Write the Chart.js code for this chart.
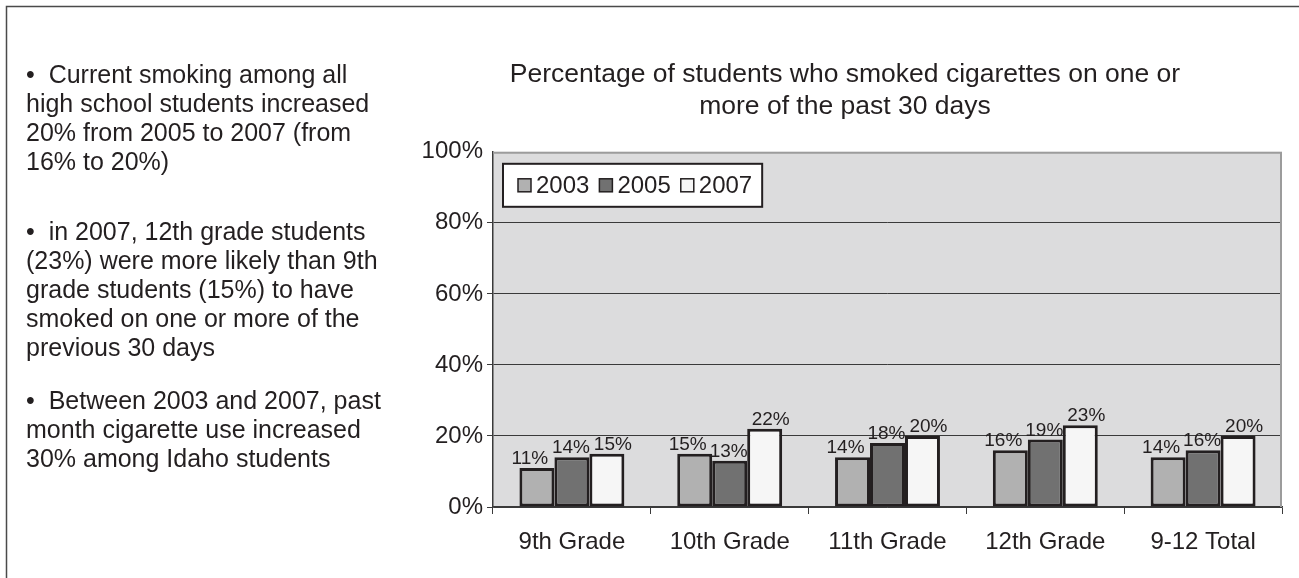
<!DOCTYPE html>
<html>
<head>
<meta charset="utf-8">
<script src="https://cdn.jsdelivr.net/npm/chart.js@4.4.1/dist/chart.umd.min.js"></script>
<style>
  body { margin: 0; background: #fff; }
  #wrap { position: relative; width: 1299px; height: 578px; }
  #smoking { position: absolute; left: 0; top: 0; }
  .note {
    position: absolute; left: 26px; margin: 0; white-space: nowrap;
    font: 25px/29px "Liberation Sans", Arial, sans-serif; color: #231f20;
  }
</style>
</head>
<body>
<div id="wrap">
  <canvas id="smoking" width="1299" height="578"></canvas>
  <p class="note" style="top:60px">•&nbsp;&nbsp;Current smoking among all<br>high school students increased<br>20% from 2005 to 2007 (from<br>16% to 20%)</p>
  <p class="note" style="top:217px">•&nbsp;&nbsp;in 2007, 12th grade students<br>(23%) were more likely than 9th<br>grade students (15%) to have<br>smoked on one or more of the<br>previous 30 days</p>
  <p class="note" style="top:386px">•&nbsp;&nbsp;Between 2003 and 2007, past<br>month cigarette use increased<br>30% among Idaho students</p>
</div>
<script>
const grades = ['9th Grade', '10th Grade', '11th Grade', '12th Grade', '9-12 Total'];
const years = ['2003', '2005', '2007'];
const pct2003 = [11, 15, 14, 16, 14];
const pct2005 = [14, 13, 18, 19, 16];
const pct2007 = [15, 22, 20, 23, 20];
const yTicks = [0, 20, 40, 60, 80, 100];

const FONT = '"Liberation Sans", Arial, sans-serif';
const INK = '#231f20';
const fills = ['#b1b1b1', '#717171', '#f6f6f6'];

// outer frame + grey plot background
const backdrop = {
  id: 'backdrop',
  beforeDraw(chart) {
    const { ctx, chartArea: a } = chart;
    ctx.save();
    ctx.fillStyle = '#dcdcdd';
    ctx.fillRect(a.left, a.top, a.right - a.left, a.bottom - a.top);
    ctx.strokeStyle = '#4a4a4a';
    ctx.lineWidth = 1.5;
    ctx.beginPath();
    ctx.moveTo(6.5, chart.height);
    ctx.lineTo(6.5, 6.5);
    ctx.lineTo(chart.width, 6.5);
    ctx.stroke();
    ctx.restore();
  },
  beforeDatasetsDraw(chart) {
    const { ctx, chartArea: a } = chart;
    ctx.save();
    ctx.strokeStyle = '#9c9c9c';
    ctx.lineWidth = 2;
    ctx.beginPath();
    ctx.moveTo(a.left, a.top + 1);
    ctx.lineTo(a.right - 1, a.top + 1);
    ctx.lineTo(a.right - 1, a.bottom);
    ctx.stroke();
    ctx.restore();
  }
};

// percentage above every bar
const barLabels = {
  id: 'barLabels',
  afterDatasetsDraw(chart) {
    const { ctx } = chart;
    const shift = [-7, -1, 6];
    ctx.save();
    ctx.font = '19px ' + FONT;
    ctx.fillStyle = INK;
    ctx.textAlign = 'center';
    ctx.textBaseline = 'alphabetic';
    chart.data.datasets.forEach((ds, i) => {
      chart.getDatasetMeta(i).data.forEach((bar, j) => {
        ctx.fillText(ds.data[j] + '%', bar.x + shift[i], bar.y - 4);
      });
    });
    ctx.restore();
  }
};

// boxed legend sitting in the top-left of the plot
const boxedLegend = {
  id: 'boxedLegend',
  afterDatasetsDraw(chart) {
    const { ctx, chartArea: a } = chart;
    const sw = 13, gapIn = 5, gapOut = 10, padL = 15, padR = 10, h = 43;
    ctx.save();
    ctx.font = '24px ' + FONT;
    let w = padL + padR;
    chart.data.datasets.forEach((ds, i) => {
      w += sw + gapIn + ctx.measureText(ds.label).width + (i ? gapOut : 0);
    });
    const x0 = a.left + 10, y0 = a.top + 12;
    ctx.fillStyle = '#fff';
    ctx.fillRect(x0, y0, w, h);
    ctx.lineWidth = 2;
    ctx.strokeStyle = INK;
    ctx.strokeRect(x0, y0, w, h);
    let x = x0 + padL;
    const cy = y0 + h / 2;
    ctx.textBaseline = 'middle';
    ctx.textAlign = 'left';
    chart.data.datasets.forEach((ds) => {
      ctx.fillStyle = ds.backgroundColor;
      ctx.fillRect(x, cy - sw / 2, sw, sw);
      ctx.lineWidth = 1.5;
      ctx.strokeStyle = INK;
      ctx.strokeRect(x, cy - sw / 2, sw, sw);
      x += sw + gapIn;
      ctx.fillStyle = INK;
      ctx.fillText(ds.label, x, cy + 1);
      x += ctx.measureText(ds.label).width + gapOut;
    });
    ctx.restore();
  }
};

const series = [pct2003, pct2005, pct2007];

new Chart(document.getElementById('smoking'), {
  type: 'bar',
  data: {
    labels: grades,
    datasets: years.map((y, i) => ({
      label: y,
      data: series[i],
      backgroundColor: fills[i],
      borderColor: INK,
      borderWidth: 3,
      borderSkipped: false,
      barPercentage: 1,
      categoryPercentage: 0.665
    }))
  },
  options: {
    responsive: false,
    animation: false,
    layout: { padding: { left: 408, right: 17, top: 0, bottom: 0 } },
    plugins: {
      legend: { display: false },
      tooltip: { enabled: false },
      title: {
        display: true,
        text: ['Percentage of students who smoked cigarettes on one or', 'more of the past 30 days'],
        color: INK,
        font: { family: FONT, size: 26.5, weight: 'normal', lineHeight: 1.2 },
        padding: { top: 59, bottom: 29.2 }
      }
    },
    scales: {
      x: {
        grid: { display: true, drawOnChartArea: false, offset: true, tickLength: 7, color: '#3a3a3a' },
        border: { display: true, color: '#3a3a3a', width: 1.5 },
        ticks: { color: INK, font: { family: FONT, size: 24 }, padding: 14, maxRotation: 0 },
        afterFit(scale) { scale.height = 71; }
      },
      y: {
        min: 0,
        max: 100,
        afterBuildTicks(scale) { scale.ticks = yTicks.map(v => ({ value: v })); },
        grid: {
          color: c => (c.tick && c.tick.value === 100) ? 'rgba(0,0,0,0)' : '#3a3a3a',
          lineWidth: 1,
          tickLength: 6
        },
        border: { display: true, color: '#3a3a3a', width: 1.5 },
        ticks: { color: INK, font: { family: FONT, size: 24 }, padding: 4, callback: v => v + '%' },
        afterFit(scale) { scale.width = 85; }
      }
    }
  },
  plugins: [backdrop, barLabels, boxedLegend]
});
</script>
</body>
</html>
